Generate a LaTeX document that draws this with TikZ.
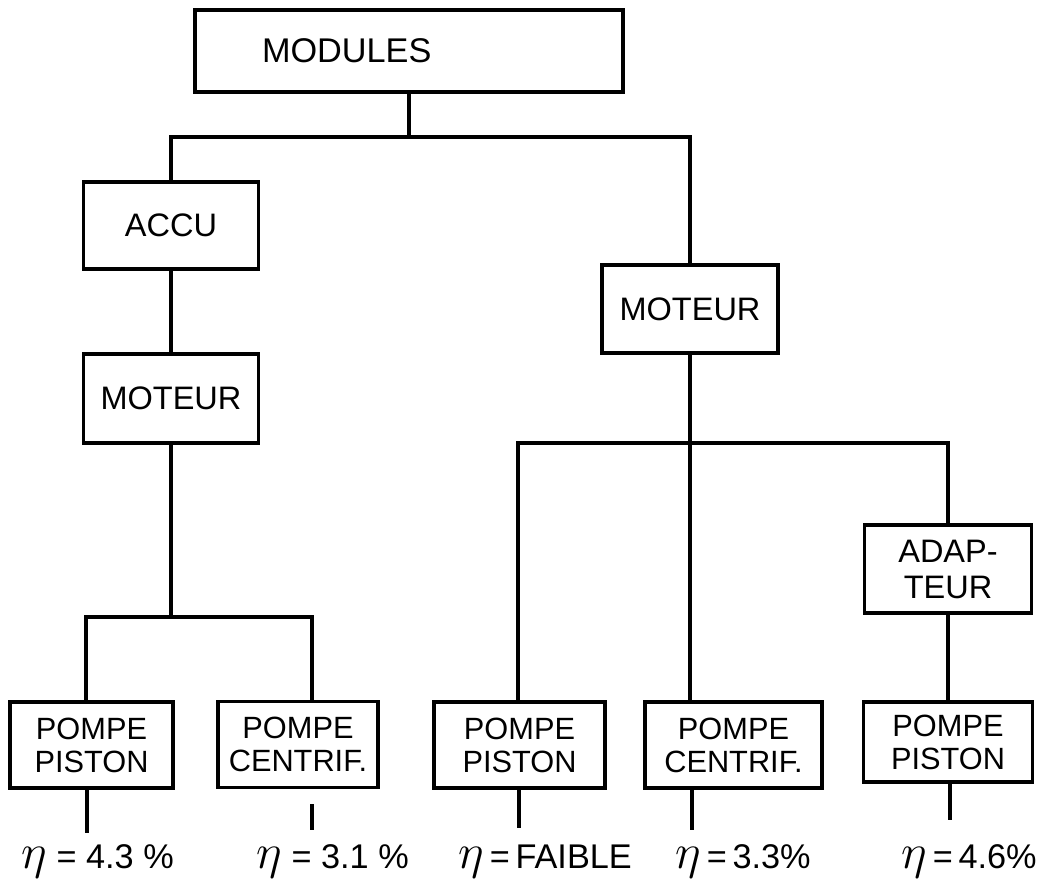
\documentclass[tikz,border=0pt]{standalone}
\usepackage{fontspec}
\setmainfont{Liberation Sans}
\usetikzlibrary{positioning}
\newcommand{\etasym}{\scalebox{1.35}{$\eta$}}
\tikzset{
  every picture/.style={line width=1.8pt},
  box/.style={draw, rectangle, align=center, inner sep=2pt, minimum height=1.76cm, font=\fontsize{18.5}{20.5}\selectfont},
  pump/.style={box, minimum height=1.72cm, font=\fontsize{17.5}{18.8}\selectfont},
  eff/.style={anchor=base west, inner sep=0pt, font=\fontsize{19.5}{22}\selectfont},
}

\begin{document}
\begin{tikzpicture}
  \useasboundingbox (0,0) rectangle (20.94,-17.82);
  % top of the tree
  \node[box, minimum width=8.56cm, minimum height=1.64cm, text width=5.88cm, inner xsep=1.34cm, align=left,
        font=\fontsize{19.5}{22}\selectfont] (modules) at (8.18,-1.02) {MODULES};
  \node[box, minimum width=3.5cm, minimum height=1.74cm] (accu) at (3.42,-4.51) {ACCU};
  \node[box, minimum width=3.5cm, minimum height=1.78cm] (moteurL) at (3.42,-7.97) {MOTEUR};
  \node[box, minimum width=3.52cm] (moteurR) at (13.8,-6.18) {MOTEUR};
  \node[box, minimum width=3.34cm] (adapt) at (18.96,-11.38) {ADAP-\\TEUR};
  % pumps on the bottom row
  \node[pump, minimum width=3.26cm] (pistonA) at (1.83,-14.9) {POMPE\\PISTON};
  \node[pump, minimum width=3.2cm] (centrifA) at (5.96,-14.89) {POMPE\\CENTRIF.};
  \node[pump, minimum width=3.42cm] (pistonB) at (10.39,-14.9) {POMPE\\PISTON};
  \node[pump, minimum width=3.54cm] (centrifB) at (14.67,-14.9) {POMPE\\CENTRIF.};
  \node[pump, minimum width=3.38cm, minimum height=1.6cm] (pistonC) at (18.96,-14.84) {POMPE\\PISTON};

  % branches
  \coordinate (forkTop) at (8.18,-2.74);
  \draw (modules) -- (forkTop);
  \draw (accu) |- (forkTop) -| (moteurR);
  \draw (accu) -- (moteurL);

  \coordinate (forkL) at (3.42,-12.34);
  \coordinate (forkLw) at (1.72,-12.34);
  \coordinate (forkLe) at (6.24,-12.34);
  \draw (moteurL) -- (forkL);
  \draw (pistonA.north -| forkLw) -- (forkLw) -- (forkLe) -- (centrifA.north -| forkLe);

  \coordinate (forkR) at (13.8,-8.86);
  \coordinate (forkRw) at (10.36,-8.86);
  \draw (moteurR) -- (centrifB.north -| forkR);
  \draw (pistonB.north -| forkRw) -- (forkRw) -| (adapt);
  \draw (adapt) -- (pistonC);

  % efficiency of each chain
  \coordinate (endA) at (1.74,-16.66);
  \coordinate (endB) at (6.24,-16.6);
  \coordinate (endC) at (10.38,-16.56);
  \coordinate (endD) at (13.84,-16.6);
  \coordinate (endE) at (19.0,-16.4);
  \foreach \b/\e in {pistonA/endA, pistonB/endC, centrifB/endD, pistonC/endE}
    \draw (\b.south -| \e) -- (\e);
  \draw[shorten <=0.3cm] (centrifA.south -| endB) -- (endB);

  \node[eff] (etaA) at (0.4,-17.36) {\etasym{} = 4.3 \%};
  \node[eff] (etaB) at (5.1,-17.36) {\etasym{} = 3.1 \%};
  \node[eff] (etaC) at (9.14,-17.36) {\etasym\,=\,FAIBLE};
  \node[eff] (etaD) at (13.48,-17.36) {\etasym\,=\,3.3\%};
  \node[eff] (etaE) at (18.0,-17.36) {\etasym\,=\,4.6\%};
\end{tikzpicture}
\end{document}
